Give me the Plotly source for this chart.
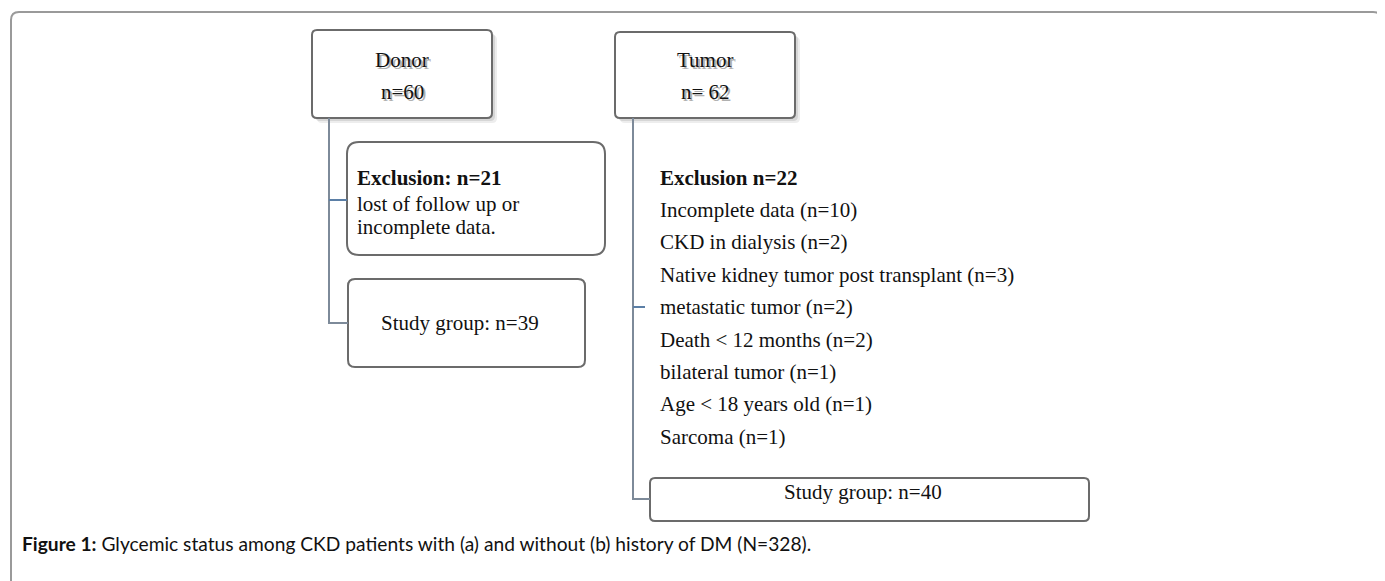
import plotly.graph_objects as go

# flowchart content
groups = ["Donor", "Tumor"]
group_n = [60, 62]
excluded = [21, 22]
studied = [39, 40]
donor_reasons = ["lost of follow up or", "incomplete data."]
tumor_reasons = ["Incomplete data", "CKD in dialysis", "Native kidney tumor post transplant",
                 "metastatic tumor", "Death < 12 months", "bilateral tumor",
                 "Age < 18 years old", "Sarcoma"]
tumor_reason_n = [10, 2, 3, 2, 2, 1, 1, 1]
caption = ("<b>Figure 1:</b> Glycemic status among CKD patients with (a) and without (b) "
           "history of DM (N=328).")

W, H = 1385, 581
PAD = 8  # page body margin, axes are shifted so data coords == page pixels
SERIF = "Liberation Serif, Times New Roman, serif"
BOX = "#6b6b6b"
LINK = "#7d8a99"
TICK = "#5b7fa6"


def rounded(x0, y0, x1, y1, r):
    return (f"M{x0+r},{y0} L{x1-r},{y0} Q{x1},{y0} {x1},{y0+r} L{x1},{y1-r} "
            f"Q{x1},{y1} {x1-r},{y1} L{x0+r},{y1} Q{x0},{y1} {x0},{y1-r} "
            f"L{x0},{y0+r} Q{x0},{y0} {x0+r},{y0} Z")


shapes = []
annotations = []


def box(x0, y0, x1, y1, r=6, shadow=False, width=2, color=BOX):
    if shadow:
        for d, op in [(5, 0.18), (3, 0.28)]:
            shapes.append(dict(type="path", path=rounded(x0 + d, y0 + d, x1 + d, y1 + d, r),
                               fillcolor="#9a9a9a", opacity=op, line=dict(width=0), layer="below"))
    shapes.append(dict(type="path", path=rounded(x0, y0, x1, y1, r),
                       fillcolor="white", line=dict(color=color, width=width), layer="below"))


def line(pts, color=LINK, width=2):
    p = "M" + " L".join(f"{x},{y}" for x, y in pts)
    shapes.append(dict(type="path", path=p, line=dict(color=color, width=width)))


def text(x, y, s, size=21, anchor="left", shadow=False, family=SERIF):
    if shadow:
        annotations.append(dict(x=x + 2, y=y + 2, text=s, showarrow=False, xanchor=anchor,
                                yanchor="middle", font=dict(family=family, size=size, color="#b0b0b0")))
    annotations.append(dict(x=x, y=y, text=s, showarrow=False, xanchor=anchor, yanchor="middle",
                            font=dict(family=family, size=size, color="#111111")))


# outer frame
shapes.append(dict(type="path", path=rounded(11, 12, 1381, 640, 8),
                   line=dict(color="#9a9a9a", width=2), layer="below"))

# top boxes
tops = [(312, 30, 492, 118), (615, 32, 795, 118)]
for (x0, y0, x1, y1), g, n in zip(tops, groups, group_n):
    box(x0, y0, x1, y1, r=5, shadow=True)
    cx = (x0 + x1) / 2
    text(cx, 60, g, anchor="center", shadow=True)
    text(cx, 92, f"n={n}" if g == "Donor" else f"n= {n}", anchor="center", shadow=True)

# donor branch
line([(329, 118), (329, 323), (348, 323)])
line([(329, 200), (347, 200)], color=TICK)
box(347, 142, 605, 255, r=12)
text(355, 178, f"<b>Exclusion: n={excluded[0]}</b>")
for i, s in enumerate(donor_reasons):
    text(355, 204 + 23 * i, s)
box(348, 279, 585, 367, r=7)
text(460, 323, f"Study group: n={studied[0]}", anchor="center")

# tumor branch
line([(633, 118), (633, 499), (650, 499)])
line([(633, 307), (645, 307)], color=TICK)
text(658, 178, f"<b>Exclusion n={excluded[1]}</b>")
for i, (s, n) in enumerate(zip(tumor_reasons, tumor_reason_n)):
    text(658, 210 + 32.4 * i, f"{s} (n={n})")
box(650, 478, 1089, 521, r=5)
text(863, 492, f"Study group: n={studied[1]}", anchor="center")

# caption
text(20, 543, caption, size=19.2, family="Lato, Open Sans, sans-serif")

fig = go.Figure()
fig.update_layout(
    width=W - PAD, height=H - PAD, margin=dict(l=0, r=0, t=0, b=0),
    paper_bgcolor="white", plot_bgcolor="white",
    xaxis=dict(range=[PAD, W], visible=False, fixedrange=True),
    yaxis=dict(range=[H, PAD], visible=False, fixedrange=True),
    shapes=shapes, annotations=annotations, showlegend=False,
)
fig.write_html("out.html")
